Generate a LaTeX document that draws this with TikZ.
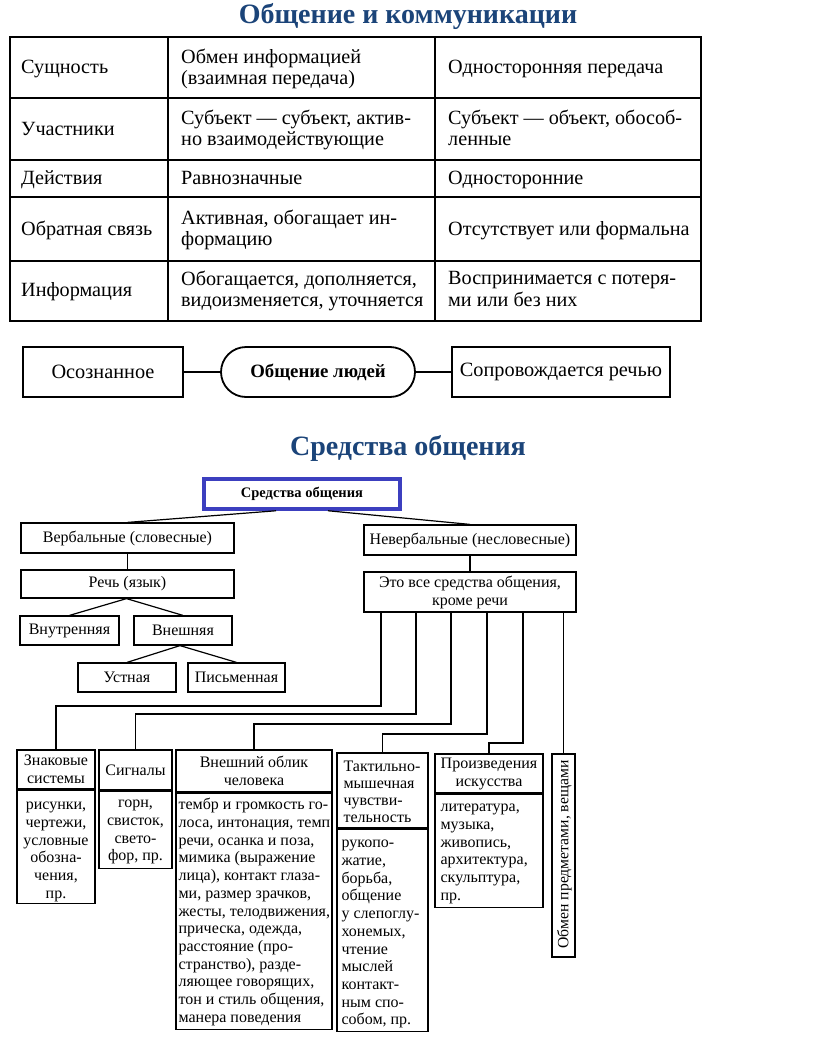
\documentclass[tikz,border=0pt]{standalone}
\usepackage{fontspec}
\setmainfont{Liberation Serif}
\usetikzlibrary{calc}
\definecolor{titleblue}{HTML}{1B4479}
\definecolor{boxblue}{HTML}{3C3FBF}
\newcommand{\fl}{\rule{0pt}{12pt}}
\begin{document}
\begin{tikzpicture}[x=1pt,y=-1pt,
  tline/.style={line width=1.6pt},
  ttext/.style={anchor=west, align=left, inner sep=0pt, font=\fontsize{20.2}{21.5}\selectfont,
    execute at begin node=\strut, execute at end node=\strut},
  titlestyle/.style={font=\fontsize{28}{30}\selectfont\bfseries, text=titleblue, inner sep=0pt},
  bigbox/.style={draw, line width=1.8pt, minimum height=50pt, inner sep=0pt, font=\fontsize{20.3}{22}\selectfont},
  tbox/.style={draw, line width=1.2pt, inner sep=0pt, align=center, font=\fontsize{16}{18}\selectfont},
  tlink/.style={line width=1.2pt},
  btext/.style={inner sep=0pt, font=\fontsize{16}{17.7}\selectfont}
]
\useasboundingbox (0,0) rectangle (816,1062);
\fill[white] (0,0) rectangle (816,1062);

% ---------- Title 1
\node[titlestyle] (t1) at (408,17) {Общение и коммуникации};

% ---------- Table
\draw[line width=2pt] (10,37) rectangle (701,321);
\draw[tline] (168,37) -- (168,321);
\draw[tline] (435,37) -- (435,321);
\foreach \yy in {98,160,197,261} \draw[tline] (10,\yy) -- (701,\yy);

\node[ttext] (a1) at (21,69) {Сущность};
\node[ttext] (b1) at (181,70) {Обмен информацией\\(взаимная передача)};
\node[ttext] (c1) at (448,69) {Односторонняя передача};

\node[ttext] (a2) at (21,131) {Участники};
\node[ttext] (b2) at (181,131) {Субъект — субъект, актив-\\но взаимодействующие};
\node[ttext] (c2) at (448,131) {Субъект — объект, обособ-\\ленные};

\node[ttext] (a3) at (21,180) {Действия};
\node[ttext] (b3) at (181,180) {Равнозначные};
\node[ttext] (c3) at (448,180) {Односторонние};

\node[ttext] (a4) at (21,231) {Обратная связь};
\node[ttext] (b4) at (181,231) {Активная, обогащает ин-\\формацию};
\node[ttext] (c4) at (448,231) {Отсутствует или формальна};

\node[ttext] (a5) at (21,292) {Информация};
\node[ttext] (b5) at (181,292) {Обогащается, дополняется,\\видоизменяется, уточняется};
\node[ttext] (c5) at (448,292) {Воспринимается с потеря-\\ми или без них};

% ---------- Row of three
\node[bigbox, minimum width=160pt] (osoz) at (103,372) {Осознанное};
\node[bigbox, minimum width=194pt, rounded corners=25pt, font=\fontsize{18.8}{21}\selectfont\bfseries] (obsh) at (318,372) {Общение людей};
\node[bigbox, minimum width=218pt] (sopr) at (561,372) {Сопровождается речью};
\draw[line width=1.8pt] (osoz) -- (obsh);
\draw[line width=1.8pt] (obsh) -- (sopr);

% ---------- Title 2
\node[titlestyle] (t2) at (408,448) {Средства общения};

% ---------- Tree
\node[tbox, draw=boxblue, line width=3.5pt, minimum width=196pt, minimum height=30pt, font=\fontsize{14.5}{15.5}\selectfont\bfseries] (top) at (302,494) {Средства общения};
\node[tbox, minimum width=213pt, minimum height=30pt] (verb) at (127.5,538) {Вербальные (словесные)};
\node[tbox, minimum width=212pt, minimum height=30pt] (nverb) at (470,540) {Невербальные (несловесные)};
\node[tbox, minimum width=213pt, minimum height=28pt] (rech) at (127.5,584) {Речь (язык)};
\node[tbox, minimum width=212pt, minimum height=40pt] (eto) at (470,592) {Это все средства общения,\\кроме речи};
\node[tbox, minimum width=99pt, minimum height=29pt] (vnutr) at (69.5,630.5) {Внутренняя};
\node[tbox, minimum width=98pt, minimum height=29pt] (vnesh) at (183,630.5) {Внешняя};
\node[tbox, minimum width=98pt, minimum height=29pt] (ustn) at (127,677.5) {Устная};
\node[tbox, minimum width=97pt, minimum height=29pt] (pism) at (236.5,677.5) {Письменная};

\draw[tlink] ($(top.south)+(-26,0)$) -- (verb.north);
\draw[tlink] ($(top.south)+(26,0)$) -- (nverb.north);
\draw[tlink] (verb) -- (rech);
\draw[tlink] (nverb) -- (eto);
\draw[tlink] ($(rech.south)+(-1,0)$) -- (vnutr.north);
\draw[tlink] ($(rech.south)+(-1,0)$) -- (vnesh.north);
\draw[tlink] ($(vnesh.south)+(-3,0)$) -- (ustn.north);
\draw[tlink] ($(vnesh.south)+(-3,0)$) -- (pism.north);

% ---------- Bottom boxes
% Знаковые системы
\node[tbox, minimum width=78pt, minimum height=39pt] (znh) at (56,769.5) {Знаковые\\системы};
\node[tbox, minimum width=78pt, minimum height=113pt, anchor=north] (znb) at (znh.south) {};
\node[btext, anchor=north, align=center] (znt) at ($(znb.north)+(0,8)$) {\fl рисунки,\\чертежи,\\условные\\обозна-\\чения,\\пр.};
% Сигналы
\node[tbox, minimum width=73pt, minimum height=40pt] (sgh) at (135.5,770) {Сигналы};
\node[tbox, minimum width=73pt, minimum height=77pt, anchor=north] (sgb) at (sgh.south) {};
\node[btext, anchor=north, align=center] (sgt) at ($(sgb.north)+(0,5)$) {\fl горн,\\свисток,\\свето-\\фор, пр.};
% Внешний облик
\node[tbox, minimum width=156pt, minimum height=42pt] (vnh) at (254,771) {Внешний облик\\человека};
\node[tbox, minimum width=156pt, minimum height=236pt, anchor=north] (vnb) at (vnh.south) {};
\node[btext, anchor=north west, align=left] (vnt) at ($(vnb.north west)+(3,5)$) {\fl тембр и громкость го-\\лоса, интонация, темп\\речи, осанка и поза,\\мимика (выражение\\лица), контакт глаза-\\ми, размер зрачков,\\жесты, телодвижения,\\прическа, одежда,\\расстояние (про-\\странство), разде-\\ляющее говорящих,\\тон и стиль общения,\\манера поведения};
% Тактильно-мышечная
\node[tbox, minimum width=91pt, minimum height=75pt] (tkh) at (382.5,790.5) {};
\node[btext, anchor=north west, align=left, font=\fontsize{16}{17}\selectfont] (tkht) at ($(tkh.north west)+(7,7)$) {\fl Тактильно-\\мышечная\\чувстви-\\тельность};
\node[tbox, minimum width=91pt, minimum height=202pt, anchor=north] (tkb) at (tkh.south) {};
\node[btext, anchor=north west, align=left] (tkt) at ($(tkb.north west)+(5,7)$) {\fl рукопо-\\жатие,\\борьба,\\общение\\у слепоглу-\\хонемых,\\чтение\\мыслей\\контакт-\\ным спо-\\собом, пр.};
% Произведения искусства
\node[tbox, minimum width=108pt, minimum height=39pt] (prh) at (489,773.5) {Произведения\\искусства};
\node[tbox, minimum width=108pt, minimum height=113pt, anchor=north] (prb) at (prh.south) {};
\node[btext, anchor=north west, align=left] (prt) at ($(prb.north west)+(6,6)$) {\fl литература,\\музыка,\\живопись,\\архитектура,\\скульптура,\\пр.};
% Обмен предметами
\node[tbox, minimum width=23pt, minimum height=203pt] (ob) at (563.5,855.5) {};
\node[btext, rotate=90, font=\fontsize{15.7}{17}\selectfont] (obt) at ($(ob.center)+(1,-1)$) {Обмен предметами, вещами};

% ---------- Connectors from "eto"
\coordinate (e1) at (381,612);
\coordinate (e2) at (416,612);
\coordinate (e3) at (451,612);
\coordinate (e4) at (487,612);
\coordinate (e5) at (523,612);
\coordinate (e6) at (563.5,612);
\draw[tlink] (e1) -- ++(0,94) -| (znh.north);
\draw[tlink] (e2) -- ++(0,102) -| (sgh.north);
\draw[tlink] (e3) -- ++(0,112) -| (vnh.north);
\draw[tlink] (e4) -- ++(0,122) -| (tkh.north);
\draw[tlink] (e5) -- ++(0,131) -| (prh.north);
\draw[tlink] (e6) -- (ob.north);
\end{tikzpicture}
\end{document}
